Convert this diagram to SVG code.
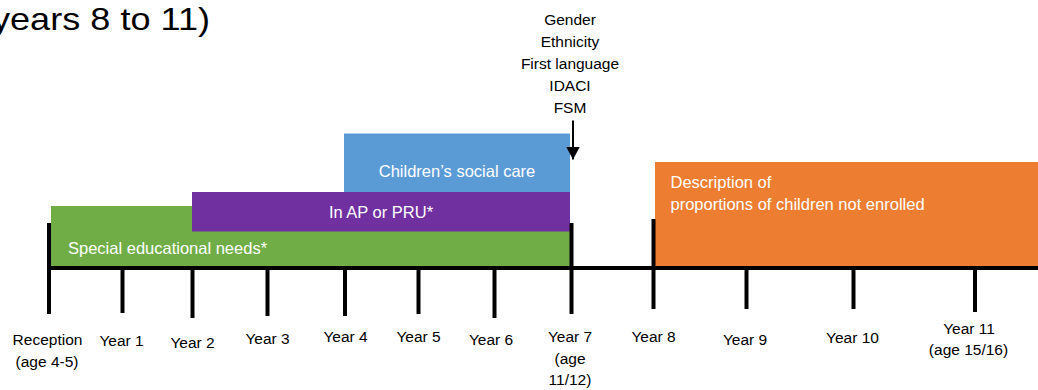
<svg xmlns="http://www.w3.org/2000/svg" width="1038" height="390" viewBox="0 0 1038 390">
  <style>
    text { font-family: "Liberation Sans", Arial, sans-serif; }
    .lbl { font-size: 15.5px; fill: #000; text-anchor: middle; }
    .bar-text { font-size: 16.5px; fill: #fff; }
    .tick { stroke: #000; stroke-width: 4; }
    .axis { stroke: #000; stroke-width: 4; }
  </style>
  <defs>
    <!-- arrowhead pointing along the path direction (+x) -->
    <marker id="arrowhead" markerUnits="userSpaceOnUse" markerWidth="13" markerHeight="14" refX="13" refY="7" orient="auto" viewBox="0 0 13 14">
      <path d="M0,0 L13,7 L0,14 Z" fill="#000"/>
    </marker>
  </defs>

  <rect width="1038" height="390" fill="#fff"/>

  <!-- heading, continued from the left -->
  <g id="heading">
    <text x="-8" y="30" font-size="32" textLength="218" lengthAdjust="spacingAndGlyphs" fill="#000">years 8 to 11)</text>
  </g>

  <!-- data bars -->
  <g id="bar-sen">
    <rect x="51" y="206" width="519" height="61" fill="#70AD47"/>
    <text class="bar-text" x="68" y="254">Special educational needs*</text>
  </g>
  <g id="bar-ap">
    <rect x="192" y="192" width="378" height="39.5" fill="#7030A0"/>
    <text class="bar-text" x="381" y="217.5" text-anchor="middle">In AP or PRU*</text>
  </g>
  <g id="bar-csc">
    <rect x="344" y="133.5" width="226" height="58.5" fill="#5B9BD5"/>
    <text class="bar-text" x="457" y="177" text-anchor="middle">Children’s social care</text>
  </g>
  <g id="bar-not-enrolled">
    <rect x="655" y="162" width="383" height="105" fill="#ED7D31"/>
    <text class="bar-text" x="670.5" y="188">Description of</text>
    <text class="bar-text" x="670.5" y="209.5">proportions of children not enrolled</text>
  </g>

  <!-- pupil characteristics -->
  <g id="characteristics">
    <text class="lbl" x="570" y="25">Gender</text>
    <text class="lbl" x="570" y="47">Ethnicity</text>
    <text class="lbl" x="570" y="68.5">First language</text>
    <text class="lbl" x="570" y="90.5">IDACI</text>
    <text class="lbl" x="570" y="112.5">FSM</text>
  </g>

  <!-- timeline axis -->
  <g id="timeline">
    <line class="axis" x1="47" y1="268" x2="1038" y2="268"/>
    <line class="tick" x1="49" y1="223" x2="49" y2="314"/>
    <line class="tick" x1="122.5" y1="268" x2="122.5" y2="313"/>
    <line class="tick" x1="192.5" y1="268" x2="192.5" y2="318"/>
    <line class="tick" x1="267.5" y1="268" x2="267.5" y2="316"/>
    <line class="tick" x1="345" y1="268" x2="345" y2="316"/>
    <line class="tick" x1="418.5" y1="268" x2="418.5" y2="314"/>
    <line class="tick" x1="494.5" y1="268" x2="494.5" y2="318"/>
    <line class="tick" x1="571.5" y1="223" x2="571.5" y2="314"/>
    <line class="tick" x1="653.5" y1="219" x2="653.5" y2="309"/>
    <line class="tick" x1="746.5" y1="268" x2="746.5" y2="309"/>
    <line class="tick" x1="853.5" y1="268" x2="853.5" y2="309"/>
    <line class="tick" x1="975" y1="268" x2="975" y2="312"/>
  </g>

  <!-- year labels -->
  <g id="year-labels">
    <text class="lbl" x="47.5" y="345">Reception</text>
    <text class="lbl" x="47" y="366.5">(age 4-5)</text>
    <text class="lbl" x="121.5" y="346">Year 1</text>
    <text class="lbl" x="192.5" y="347.5">Year 2</text>
    <text class="lbl" x="267.5" y="344">Year 3</text>
    <text class="lbl" x="345.5" y="342">Year 4</text>
    <text class="lbl" x="418.5" y="342">Year 5</text>
    <text class="lbl" x="491" y="345">Year 6</text>
    <text class="lbl" x="570" y="342">Year 7</text>
    <text class="lbl" x="570" y="364">(age</text>
    <text class="lbl" x="570" y="385">11/12)</text>
    <text class="lbl" x="653.5" y="342">Year 8</text>
    <text class="lbl" x="745" y="344.5">Year 9</text>
    <text class="lbl" x="852.5" y="343">Year 10</text>
    <text class="lbl" x="969" y="333.5">Year 11</text>
    <text class="lbl" x="968.5" y="355">(age 15/16)</text>
  </g>

  <!-- connectors -->
  <g id="connectors">
    <line x1="573" y1="120.5" x2="573" y2="159.5" stroke="#000" stroke-width="2" marker-end="url(#arrowhead)"/>
  </g>
</svg>
